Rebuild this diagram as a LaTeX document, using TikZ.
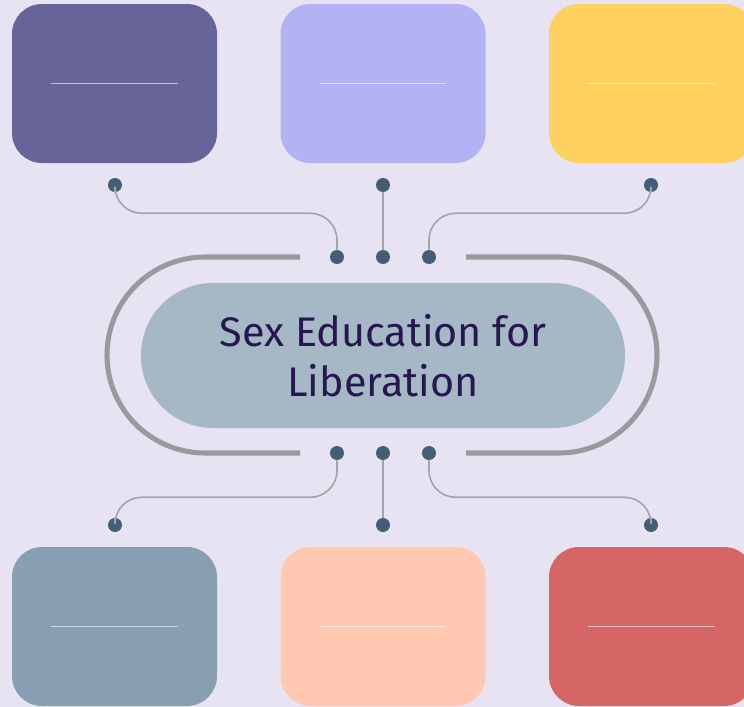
\documentclass[tikz,border=0pt]{standalone}
\usepackage{fontspec}
\setmainfont{Fira Sans}
\definecolor{bg}{HTML}{E7E3F2}
\definecolor{cardA}{HTML}{67649A}
\definecolor{cardB}{HTML}{B2B2F4}
\definecolor{cardC}{HTML}{FDD05F}
\definecolor{cardD}{HTML}{889FB1}
\definecolor{cardE}{HTML}{FFC8B1}
\definecolor{cardF}{HTML}{D66665}
\definecolor{pinblue}{HTML}{435F78}
\definecolor{wiregray}{HTML}{A3A3A8}
\definecolor{trackgray}{HTML}{9A9A9E}
\definecolor{pillblue}{HTML}{A6B7C6}
\definecolor{ink}{HTML}{26174F}
\tikzset{
  card/.style={rounded corners=22.5pt,minimum width=153.75pt,minimum height=119.25pt,inner sep=0pt},
  rule/.style={draw=white,draw opacity=0.6,line width=1.3pt},
  pin/.style={circle,fill=pinblue,inner sep=0pt,minimum size=10.5pt},
  wire/.style={draw=wiregray,line width=1.2pt,rounded corners=20pt},
  track/.style={draw=trackgray,line width=3.8pt},
}

\begin{document}
\begin{tikzpicture}[x=0.75pt,y=-0.75pt]
\useasboundingbox (0,0) rectangle (744,707);
\fill[bg] (0,0) rectangle (744,707);
\clip (0,0) rectangle (744,707);
\node[card,fill=cardA] (c1) at (114.5,83.5) {};
\node[card,fill=cardB] (c2) at (383,83.5) {};
\node[card,fill=cardC] (c3) at (651.5,83.5) {};
\node[card,fill=cardD] (c4) at (114.5,626.5) {};
\node[card,fill=cardE] (c5) at (383,626.5) {};
\node[card,fill=cardF] (c6) at (651.5,626.5) {};
\foreach \c in {c1,c2,c3,c4,c5,c6}
  \draw[rule] ([xshift=-47.5pt]\c.center) -- ([xshift=47.5pt]\c.center);

\draw[track] (300,257) -- (205,257) arc (270:90:98) -- (300,453);
\draw[track] (466,257) -- (559,257) arc (-90:90:98) -- (466,453);
\node[fill=pillblue,rounded corners=54pt,minimum width=363pt,minimum height=108.75pt,
  align=center,text=ink,font=\fontsize{31}{37.5}\selectfont] (hub) at (383,355.5)
  {Sex Education for\\Liberation};

\node[pin] (p1) at (115,185) {};
\node[pin] (p2) at (383,185) {};
\node[pin] (p3) at (651,185) {};
\node[pin] (q1) at (337,257) {};
\node[pin] (q2) at (383,257) {};
\node[pin] (q3) at (429,257) {};
\node[pin] (r1) at (337,453) {};
\node[pin] (r2) at (383,453) {};
\node[pin] (r3) at (429,453) {};
\node[pin] (s1) at (115,525) {};
\node[pin] (s2) at (383,525) {};
\node[pin] (s3) at (651,525) {};

\draw[wire] (p1.south) -- ++(0,21) -| (q1.north);
\draw[wire] (p2) -- (q2);
\draw[wire] (p3.south) -- ++(0,21) -| (q3.north);
\draw[wire] (r1.south) -- ++(0,37) -| (s1.north);
\draw[wire] (r2) -- (s2);
\draw[wire] (r3.south) -- ++(0,37) -| (s3.north);
\end{tikzpicture}
\end{document}
